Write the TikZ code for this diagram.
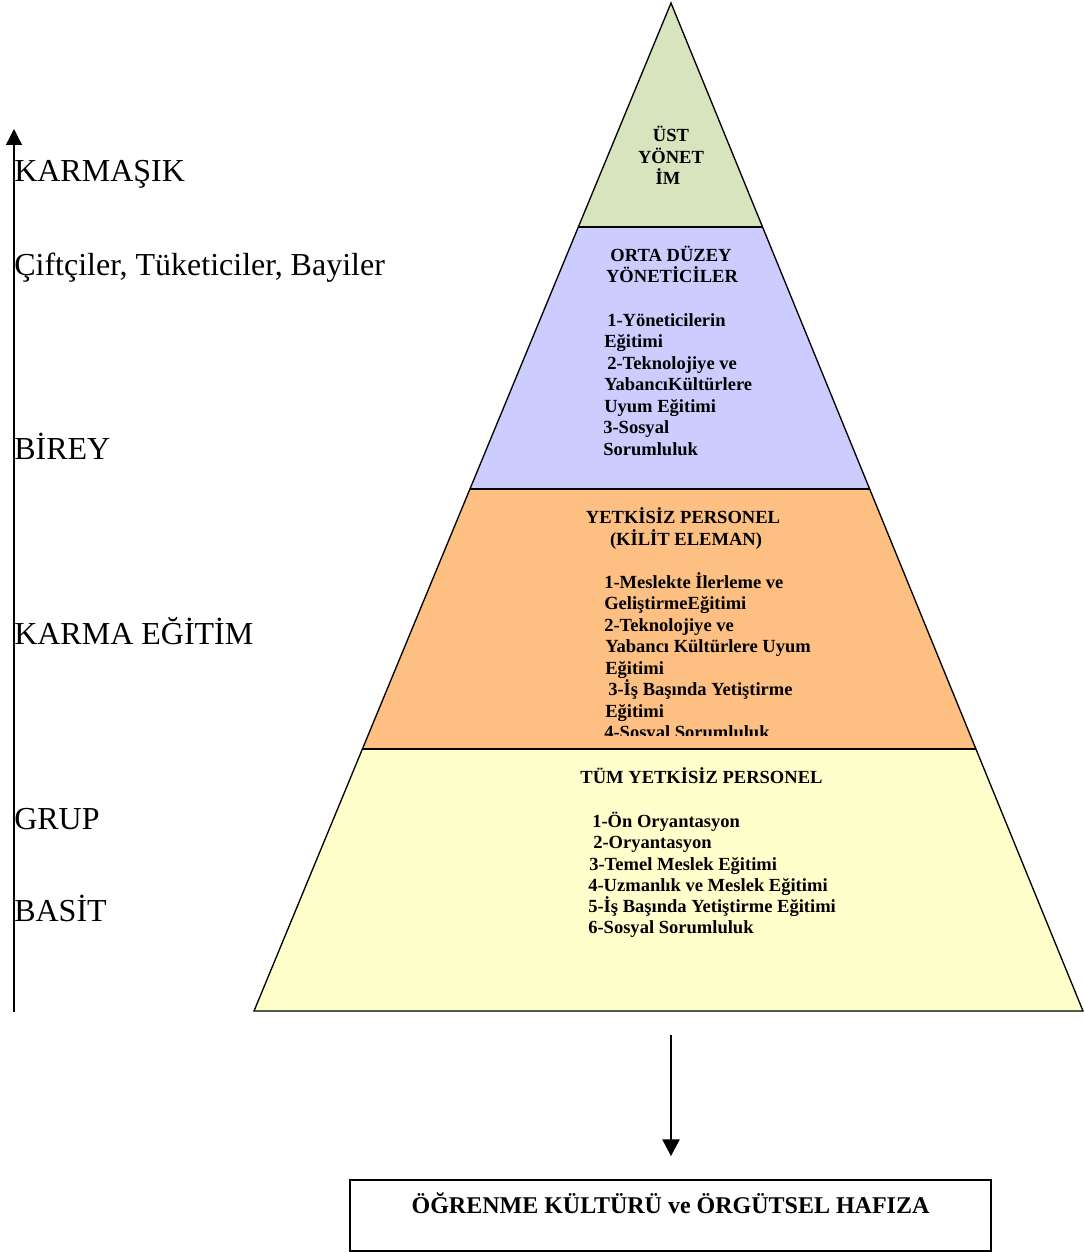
\documentclass[tikz,border=0pt]{standalone}
\usepackage{fontspec}
\setmainfont{Liberation Serif}
\usetikzlibrary{arrows.meta,calc}
\definecolor{topgreen}{HTML}{D7E4BD}
\definecolor{midpurple}{HTML}{CCCCFF}
\definecolor{keyorange}{HTML}{FDBF82}
\definecolor{baseyellow}{HTML}{FFFFCC}
\begin{document}
\begin{tikzpicture}[x=0.75pt,y=-0.75pt,
  layerline/.style={draw=black,line width=1pt},
  boldtxt/.style={font=\bfseries\fontsize{13.9}{16}\selectfont,inner sep=0pt,anchor=base west},
  headtxt/.style={font=\bfseries\fontsize{13.9}{16}\selectfont,inner sep=0pt,anchor=base},
  sidetxt/.style={font=\fontsize{24}{28}\selectfont,inner sep=0pt,anchor=base west},
  arrowline/.style={draw=black,line width=1pt}]
\useasboundingbox (0,0) rectangle (1084,1252);
% pyramid geometry
\coordinate (apex) at (671,3);
\coordinate (bl) at (254,1011);
\coordinate (br) at (1083,1011);
\coordinate (l1) at ($(apex)!0.22222!(bl)$);
\coordinate (r1) at ($(apex)!0.22222!(br)$);
\coordinate (l2) at ($(apex)!0.48214!(bl)$);
\coordinate (r2) at ($(apex)!0.48214!(br)$);
\coordinate (l3) at ($(apex)!0.74008!(bl)$);
\coordinate (r3) at ($(apex)!0.74008!(br)$);
% fills
\fill[topgreen] (apex) -- (l1) -- (r1) -- cycle;
\fill[midpurple] (l1) -- (l2) -- (r2) -- (r1) -- cycle;
\fill[keyorange] (l2) -- (l3) -- (r3) -- (r2) -- cycle;
\fill[baseyellow] (l3) -- (bl) -- (br) -- (r3) -- cycle;
% outlines
\draw[layerline] (apex) -- (bl) -- (br) -- cycle;
\draw[layerline] (l1) -- (r1);
\draw[layerline] (l2) -- (r2);
\draw[layerline] (l3) -- (r3);
% top layer
\node[headtxt] (top1) at (671,142) {ÜST};
\node[headtxt] (top2) at (671,164) {YÖNET};
\node[headtxt] (top3) at (668,185) {İM};
% middle layer
\node[headtxt] (midh1) at (671,261) {ORTA DÜZEY};
\node[headtxt] (midh2) at (672,282) {YÖNETİCİLER};
\foreach \xx/\yy/\tt [count=\i] in {607/326/1-Yöneticilerin, 604/347/Eğitimi, 607/369/2-Teknolojiye ve, 604/390/YabancıKültürlere, 604/412/Uyum Eğitimi, 603/433/3-Sosyal, 603/455/Sorumluluk}
  \node[boldtxt] (mid\i) at (\xx,\yy) {\tt};
% key staff layer
\node[headtxt] (keyh1) at (683,523) {YETKİSİZ PERSONEL};
\node[headtxt] (keyh2) at (686,545) {(KİLİT ELEMAN)};
\foreach \xx/\yy/\tt [count=\i] in {604/588/1-Meslekte İlerleme ve, 604/609/GeliştirmeEğitimi, 604/631/2-Teknolojiye ve, 605/652/Yabancı Kültürlere Uyum, 605/674/Eğitimi, 608/695/3-İş Başında Yetiştirme, 605/717/Eğitimi}
  \node[boldtxt] (key\i) at (\xx,\yy) {\tt};
\begin{scope}
  \clip (360,700) rectangle (980,735.5);
  \node[boldtxt] (key8) at (604,738) {4-Sosyal Sorumluluk};
\end{scope}
% base layer
\node[headtxt] (baseh) at (701.5,783) {TÜM YETKİSİZ PERSONEL};
\foreach \xx/\yy/\tt [count=\i] in {592/827/1-Ön Oryantasyon, 593/848/2-Oryantasyon, 589/870/3-Temel Meslek Eğitimi, 588/891/4-Uzmanlık ve Meslek Eğitimi, 588/912/5-İş Başında Yetiştirme Eğitimi, 588/933/6-Sosyal Sorumluluk}
  \node[boldtxt] (base\i) at (\xx,\yy) {\tt};
% left axis
\coordinate (axbot) at (14,1012);
\coordinate (axtop) at (14,129);
\draw[arrowline,-{Triangle[length=12pt,width=12pt]}] (axbot) -- (axtop);
\node[sidetxt] (s1) at (14,181) {KARMAŞIK};
\node[sidetxt] (s2) at (14,275) {Çiftçiler, Tüketiciler, Bayiler};
\node[sidetxt] (s3) at (14,459) {BİREY};
\node[sidetxt] (s4) at (14,644) {KARMA EĞİTİM};
\node[sidetxt] (s5) at (14,829) {GRUP};
\node[sidetxt] (s6) at (14,921) {BASİT};
% result box
\node[draw=black,line width=1pt,minimum width=641*0.75pt,minimum height=71*0.75pt,inner sep=0pt] (result) at (670.5,1215.5) {};
\node[font=\bfseries\fontsize{18}{21}\selectfont,inner sep=0pt,anchor=base] (resulttxt) at (670.5,1213) {ÖĞRENME KÜLTÜRÜ ve ÖRGÜTSEL HAFIZA};
\coordinate (dstart) at (671,1035);
\coordinate (dend) at (671,1156);
\draw[arrowline,-{Triangle[length=12.5pt,width=13pt]}] (dstart) -- (dend);
\end{tikzpicture}
\end{document}
